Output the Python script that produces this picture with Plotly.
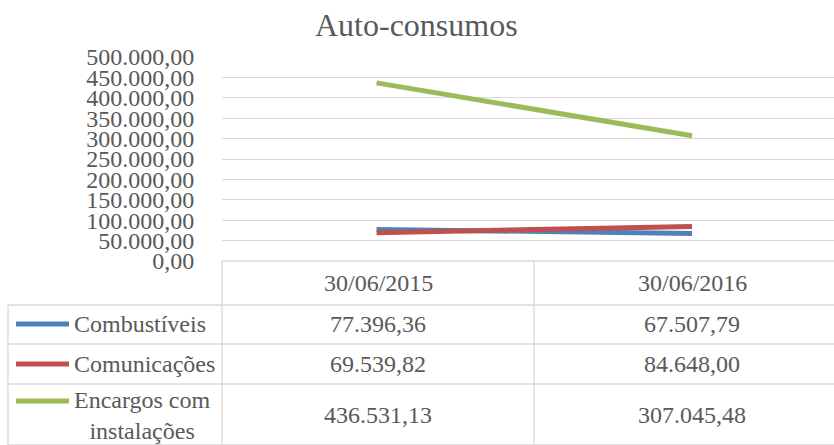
import plotly.graph_objects as go

# data
datas = ['30/06/2015', '30/06/2016']
series = ['Combustíveis', 'Comunicações', 'Encargos com<br>instalações']
combustiveis = [77396.36, 67507.79]
comunicacoes = [69539.82, 84648.00]
encargos = [436531.13, 307045.48]
cores = ['#4F81BD', '#C0504D', '#9BBB59']

W, H = 834, 445
FONT = 'Liberation Serif'
GREY = '#595959'
GRID = '#D9D9D9'


def px(x):
    return x / W


def py(y):
    return 1 - y / H


def pt(v):
    # portuguese number format 1.234,56
    s = '{:,.2f}'.format(v)
    return s.replace(',', 'X').replace('.', ',').replace('X', '.')


valores = [combustiveis, comunicacoes, encargos]

fig = go.Figure()
for nome, vals, cor in zip(series, valores, cores):
    fig.add_trace(go.Scatter(x=[0, 1], y=vals, mode='lines', name=nome,
                             line=dict(color=cor, width=5), showlegend=False))

# table under the plot
shapes = []
linha = dict(color=GRID, width=1.3)
shapes.append(dict(type='line', xref='paper', yref='paper', x0=px(222), x1=1,
                   y0=py(261), y1=py(261), line=linha))
for y in [305, 344, 384, 445]:
    shapes.append(dict(type='line', xref='paper', yref='paper', x0=px(8), x1=1,
                       y0=py(y), y1=py(y), line=linha))
shapes.append(dict(type='line', xref='paper', yref='paper', x0=px(8), x1=px(8),
                   y0=py(305), y1=py(445), line=linha))
for x in [222, 534]:
    shapes.append(dict(type='line', xref='paper', yref='paper', x0=px(x), x1=px(x),
                       y0=py(261), y1=py(445), line=linha))

annots = []
col_x = [378, 692]
for d, cx in zip(datas, col_x):
    annots.append(dict(x=px(cx), y=py(283), text=d, showarrow=False,
                       xref='paper', yref='paper', xanchor='center', yanchor='middle'))

row_y = [324, 364, 415]
key_y = [324, 364, 401]
for nome, vals, cor, ry, ky in zip(series, valores, cores, row_y, key_y):
    shapes.append(dict(type='line', xref='paper', yref='paper', x0=px(16), x1=px(69),
                       y0=py(ky), y1=py(ky), line=dict(color=cor, width=5)))
    annots.append(dict(x=px(72), y=py(ry), text=nome, showarrow=False, align='center',
                       xref='paper', yref='paper', xanchor='left', yanchor='middle'))
    for v, cx in zip(vals, col_x):
        annots.append(dict(x=px(cx), y=py(ry), text=pt(v), showarrow=False,
                           xref='paper', yref='paper', xanchor='center', yanchor='middle'))

annots.append(dict(x=px(416), y=py(25), text='Auto-consumos', showarrow=False,
                   xref='paper', yref='paper', xanchor='center', yanchor='middle',
                   font=dict(family=FONT, size=32, color=GREY)))

fig.update_layout(
    width=W, height=H,
    margin=dict(l=0, r=0, t=0, b=0, pad=0, autoexpand=False),
    paper_bgcolor='white', plot_bgcolor='white',
    separators=',.',
    font=dict(family=FONT, size=24, color=GREY),
    shapes=shapes, annotations=annots,
    xaxis=dict(domain=[px(222), 1], range=[-0.49, 1.45], showticklabels=False,
               showgrid=False, zeroline=False, fixedrange=True, automargin=False),
    yaxis=dict(domain=[py(261), py(57)], range=[0, 500000], dtick=50000,
               tickformat=',.2f', showgrid=True, gridcolor=GRID, gridwidth=1.3,
               zeroline=False, ticks='outside', ticklen=22, automargin=False,
               tickcolor='rgba(0,0,0,0)',
               tickfont=dict(family=FONT, size=24, color=GREY)),
)

fig.write_html('out.html', config={'displayModeBar': False},
               post_script="document.body.style.margin='0';")
